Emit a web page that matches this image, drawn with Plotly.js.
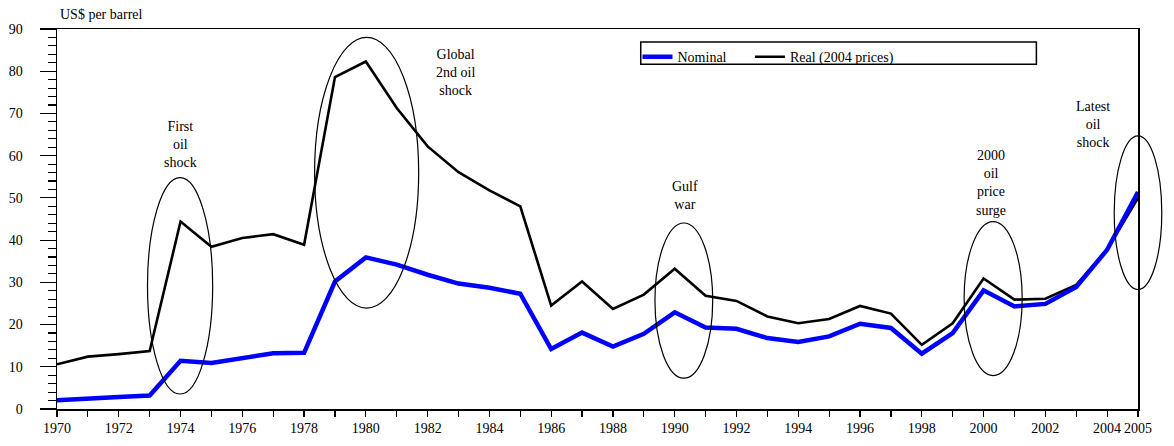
<!DOCTYPE html>
<html>
<head>
<meta charset="utf-8">
<script src="https://cdn.plot.ly/plotly-3.0.1.min.js"></script>
<style>html,body{margin:0;padding:0;background:#fff;}#chart{width:1174px;height:446px;}</style>
</head>
<body>
<div id="chart"></div>
<script>
const years = [1970,1971,1972,1973,1974,1975,1976,1977,1978,1979,1980,1981,1982,1983,1984,1985,1986,1987,1988,1989,1990,1991,1992,1993,1994,1995,1996,1997,1998,1999,2000,2001,2002,2003,2004,2005];
const nominal = [2.1,2.6,2.85,3.2,11.4,10.9,12.1,13.2,13.3,30.2,35.9,34.2,31.8,29.7,28.7,27.3,14.2,18.1,14.8,17.8,22.9,19.3,19.0,16.8,15.9,17.2,20.2,19.2,13.1,18.0,28.1,24.3,24.9,28.9,37.7,51.4];
const real = [10.6,12.4,13.0,13.7,44.4,38.4,40.5,41.4,38.9,78.6,82.3,71.3,62.2,56.1,51.8,48.0,24.5,30.2,23.7,27.1,33.2,26.8,25.6,21.9,20.3,21.3,24.4,22.6,15.2,20.3,30.9,25.9,26.1,29.4,37.7,50.0];

const tickLabels = years.map(y => (y % 2 === 0 || y === 2005) ? String(y) : '');

// Event annotations
const eventText = ['First<br>oil<br>shock','Global<br>2nd oil<br>shock','Gulf<br>war','2000<br>oil<br>price<br>surge','Latest<br>oil<br>shock'];
const eventTextX = [1974.0, 1982.9, 1990.33, 2000.24, 2003.54];
const eventTextY = [62.6, 79.6, 50.5, 53.5, 67.3];
const ellX0 = [1972.93, 1978.34, 1989.36, 1999.37, 2004.23];
const ellX1 = [1975.04, 1981.71, 1991.23, 2001.25, 2005.77];
const ellY0 = [3.55, 23.9, 7.3, 7.9, 28.3];
const ellY1 = [54.8, 88.0, 44.05, 44.4, 64.7];

const X_MIN = 1970, X_MAX = 2005, Y_MIN = 0, Y_MAX = 90;
const px = v => (v - X_MIN) / (X_MAX - X_MIN);
const py = v => (v - Y_MIN) / (Y_MAX - Y_MIN);

const FONT = '"Liberation Serif", serif';
const tf = {family: FONT, size: 14, color: '#000'};

const traces = [
  {x: years, y: real, type: 'scatter', mode: 'lines', name: 'Real (2004 prices)',
   line: {color: '#000000', width: 2.6}, legend: 'legend2'},
  {x: years, y: nominal, type: 'scatter', mode: 'lines', name: 'Nominal',
   line: {color: '#0000ff', width: 4.5}, legend: 'legend'}
];

const shapes = ellX0.map((x0, i) => ({
  type: 'circle', xref: 'paper', yref: 'paper',
  x0: px(x0), x1: px(ellX1[i]), y0: py(ellY0[i]), y1: py(ellY1[i]),
  line: {color: '#000', width: 1.2}, fillcolor: 'rgba(0,0,0,0)', layer: 'above'
}));
// legend box
shapes.push({type: 'rect', xref: 'paper', yref: 'paper', x0: 0.540, x1: 0.906, y0: 0.907, y1: 0.966,
  line: {color: '#000', width: 1.5}, fillcolor: '#fff', layer: 'below'});

const annotations = eventText.map((t, i) => ({
  text: t, x: eventTextX[i], y: eventTextY[i], xref: 'x', yref: 'y',
  showarrow: false, align: 'center', font: tf
}));
annotations.push({text: 'US$ per barrel', xref: 'paper', yref: 'paper', x: 0.001, y: 1.038,
  xanchor: 'left', yanchor: 'middle', showarrow: false, font: tf});

const legendBase = {orientation: 'h', yanchor: 'top', xanchor: 'left', y: 0.968,
  bgcolor: 'rgba(0,0,0,0)', borderwidth: 0, font: tf, itemwidth: 30};

const layout = {
  width: 1174, height: 446,
  margin: {l: 57, r: 36, t: 29, b: 37},
  paper_bgcolor: '#fff', plot_bgcolor: '#fff',
  font: tf,
  showlegend: true,
  legend: Object.assign({}, legendBase, {x: 0.537}),
  legend2: Object.assign({}, legendBase, {x: 0.641}),
  xaxis: {range: [X_MIN, X_MAX], tickvals: years, ticktext: tickLabels, tickmode: 'array',
    ticks: 'outside', ticklen: 6, tickwidth: 1.2, tickcolor: '#000',
    showline: true, linecolor: '#000', linewidth: 1.5, mirror: true,
    showgrid: false, zeroline: false, fixedrange: true, tickfont: tf},
  yaxis: {range: [Y_MIN, Y_MAX], dtick: 10, tick0: 0,
    ticks: 'outside', ticklen: 16, tickwidth: 1.2, tickcolor: '#000',
    minor: {dtick: 2, ticks: 'outside', ticklen: 8, tickwidth: 1.2, tickcolor: '#000', showgrid: false},
    ticklabelstandoff: 14,
    showline: true, linecolor: '#000', linewidth: 1.5, mirror: true,
    showgrid: false, zeroline: false, fixedrange: true, tickfont: tf},
  shapes: shapes,
  annotations: annotations
};

Plotly.newPlot('chart', traces, layout, {staticPlot: true, displayModeBar: false});
</script>
</body>
</html>
